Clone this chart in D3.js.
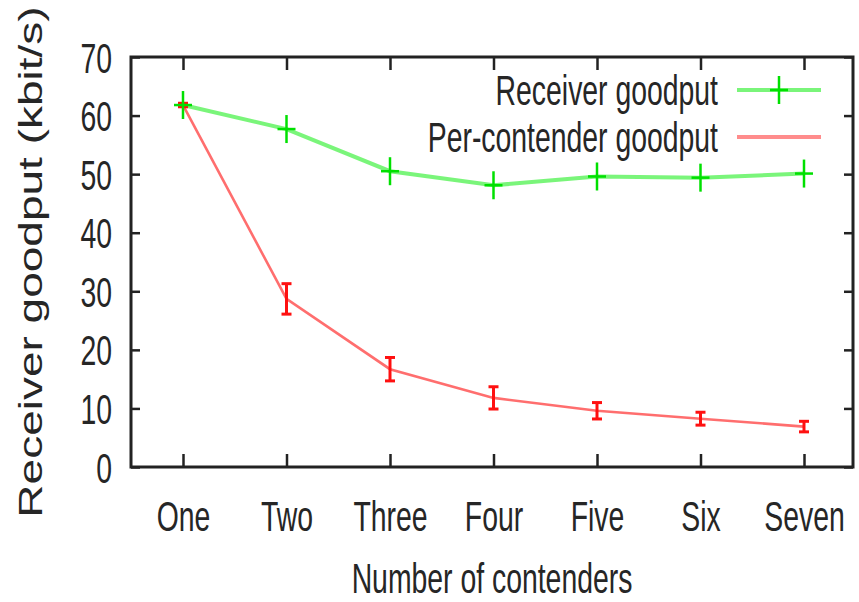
<!DOCTYPE html>
<html>
<head>
<meta charset="utf-8">
<script src="https://cdn.jsdelivr.net/npm/d3@7"></script>
<style>
  body { margin: 0; background: #fff; }
  text { font-family: "Liberation Sans", Arial, sans-serif; fill: #262626; }
</style>
</head>
<body>
<div id="graph"></div>
<script>
var width = 859;
var height = 602;

// data
var contenders = ["One", "Two", "Three", "Four", "Five", "Six", "Seven"];
var receiverGoodput = [61.8, 57.7, 50.5, 48.1, 49.6, 49.4, 50.1];
var perContender = [61.8, 28.7, 16.7, 11.8, 9.6, 8.25, 6.9];
var perContenderErr = [0.3, 2.6, 2.0, 1.9, 1.4, 1.1, 0.9];
var yTicks = [0, 10, 20, 30, 40, 50, 60, 70];
var seriesNames = ["Receiver goodput", "Per-contender goodput"];

// plot frame (window.top is taken, so plot* names)
var plotLeft = 131, plotRight = 853, plotTop = 57, plotBottom = 467;
var squeeze = 0.66;

var svg = d3.select("#graph")
            .append("svg")
            .attr("width", width)
            .attr("height", height);

var x = d3.scalePoint()
    .domain(contenders)
    .range([plotLeft + 52, plotRight - 49]);

var y = d3.scaleLinear()
    .domain([0, 70])
    .range([plotBottom, plotTop]);

// axes: gnuplot style, ticks pointing inward on all four sides
var yAxis = svg.append("g")
    .attr("transform", "translate(" + plotLeft + ",0)")
    .call(d3.axisLeft(y).tickValues(yTicks).tickSize(-9).tickSizeOuter(0).tickPadding(19));
yAxis.selectAll("text")
    .attr("x", null).attr("dy", null)
    .attr("font-size", 43)
    .attr("text-anchor", "end")
    .attr("transform", "translate(-19,15) scale(" + squeeze + ",1)");

svg.append("g")
    .attr("transform", "translate(" + plotRight + ",0)")
    .call(d3.axisRight(y).tickValues(yTicks).tickSize(-9).tickSizeOuter(0).tickFormat(""));

var xAxis = svg.append("g")
    .attr("transform", "translate(0," + plotBottom + ")")
    .call(d3.axisBottom(x).tickSize(-13).tickSizeOuter(0));
xAxis.selectAll("text")
    .attr("y", null).attr("dy", null)
    .attr("font-size", 43)
    .attr("text-anchor", "middle")
    .attr("transform", "translate(0,64) scale(" + squeeze + ",1)");

svg.append("g")
    .attr("transform", "translate(0," + plotTop + ")")
    .call(d3.axisTop(x).tickSize(-13).tickSizeOuter(0).tickFormat(""));

svg.selectAll(".domain").remove();
svg.selectAll(".tick line").attr("stroke", "#222").attr("stroke-width", 2.5);

svg.append("rect")
    .attr("x", plotLeft).attr("y", plotTop)
    .attr("width", plotRight - plotLeft).attr("height", plotBottom - plotTop)
    .attr("fill", "none")
    .attr("stroke", "#222")
    .attr("stroke-width", 3);

// axis titles
svg.append("text")
    .attr("font-size", 46)
    .attr("text-anchor", "middle")
    .attr("transform", "translate(42,262) scale(0.72,1) rotate(-90)")
    .text("Receiver goodput (kbit/s)");

svg.append("text")
    .attr("font-size", 43)
    .attr("text-anchor", "middle")
    .attr("transform", "translate(" + (plotLeft + plotRight) / 2 + ",593) scale(" + squeeze + ",1)")
    .text("Number of contenders");

// lines
var line = d3.line()
    .x(function(d, i) { return x(contenders[i]); })
    .y(function(d) { return y(d); });

svg.append("path")
    .datum(perContender)
    .attr("d", line)
    .attr("fill", "none")
    .attr("stroke", "#ff3030")
    .attr("stroke-opacity", 0.7)
    .attr("stroke-width", 2.6);

svg.append("path")
    .datum(receiverGoodput)
    .attr("d", line)
    .attr("fill", "none")
    .attr("stroke", "#22ee22")
    .attr("stroke-opacity", 0.6)
    .attr("stroke-width", 4);

// error bars
var err = svg.append("g").selectAll("g")
    .data(perContender)
    .enter().append("g")
    .attr("stroke", "#ff1010")
    .attr("stroke-width", 3);

err.append("line")
    .attr("x1", function(d, i) { return x(contenders[i]); })
    .attr("x2", function(d, i) { return x(contenders[i]); })
    .attr("y1", function(d, i) { return y(d - perContenderErr[i]); })
    .attr("y2", function(d, i) { return y(d + perContenderErr[i]); });

[-1, 1].forEach(function(s) {
  err.append("line")
      .attr("x1", function(d, i) { return x(contenders[i]) - 5; })
      .attr("x2", function(d, i) { return x(contenders[i]) + 5; })
      .attr("y1", function(d, i) { return y(d + s * perContenderErr[i]); })
      .attr("y2", function(d, i) { return y(d + s * perContenderErr[i]); });
});

// plus markers
function plus(g, cx, cy) {
  g.append("line").attr("x1", cx - 9).attr("x2", cx + 9).attr("y1", cy).attr("y2", cy);
  g.append("line").attr("x1", cx).attr("x2", cx).attr("y1", cy - 14).attr("y2", cy + 14);
}

var marks = svg.append("g")
    .attr("stroke", "#00e000")
    .attr("stroke-width", 2.5);
receiverGoodput.forEach(function(d, i) { plus(marks, x(contenders[i]), y(d)); });

// legend
var legendY = [90, 137];
var legendColor = ["#22ee22", "#ff4040"];

var legend = svg.append("g").selectAll("g")
    .data(seriesNames)
    .enter().append("g");

legend.append("text")
    .attr("font-size", 43)
    .attr("text-anchor", "end")
    .attr("transform", function(d, i) { return "translate(718," + (legendY[i] + 15) + ") scale(" + squeeze + ",1)"; })
    .text(function(d) { return d; });

legend.append("line")
    .attr("x1", 737).attr("x2", 821)
    .attr("y1", function(d, i) { return legendY[i]; })
    .attr("y2", function(d, i) { return legendY[i]; })
    .attr("stroke", function(d, i) { return legendColor[i]; })
    .attr("stroke-opacity", 0.6)
    .attr("stroke-width", 4);

var legendMarks = svg.append("g")
    .attr("stroke", "#00e000")
    .attr("stroke-width", 2.5);
plus(legendMarks, 779, legendY[0]);
</script>
</body>
</html>
